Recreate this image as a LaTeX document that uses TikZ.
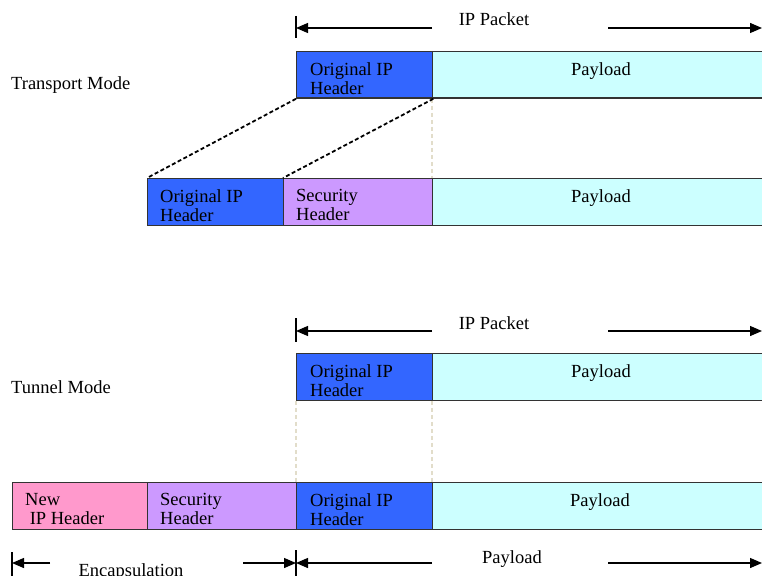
\documentclass[tikz,border=0pt]{standalone}
\usepackage{fontspec}
\setmainfont{Liberation Serif}
\usetikzlibrary{arrows.meta}
\definecolor{hdrblue}{HTML}{3366FF}
\definecolor{paycyan}{HTML}{CCFFFF}
\definecolor{secpurple}{HTML}{CC99FF}
\definecolor{newpink}{HTML}{FF99CC}
\definecolor{boxline}{HTML}{333333}
\definecolor{faintline}{HTML}{E2DDCA}
\begin{document}
\begin{tikzpicture}[x=1pt,y=-1pt,
  pbox/.style={draw=boxline, line width=1.3pt, rectangle, anchor=north west, inner sep=0pt, minimum height=46.5pt},
  txt/.style={anchor=north west, inner sep=0pt, align=left, font=\fontsize{18.5}{19}\selectfont},
  lbl/.style={anchor=base, inner sep=0pt, font=\fontsize{18.5}{19}\selectfont},
  arr/.style={line width=1.3pt, -{Triangle[length=12pt,width=10pt]}},
  tick/.style={line width=1.3pt},
  dashlink/.style={line width=1.8pt, dash pattern=on 4pt off 2.5pt},
  faint/.style={faintline, line width=1.2pt, dash pattern=on 4pt off 3pt}]
\useasboundingbox[fill=white] (0,0) rectangle (762,575);

% ---------- Transport mode ----------
\node[lbl, anchor=base west] (tmode) at (11,90) {Transport Mode};

\coordinate (t1a) at (296,16); \coordinate (t1b) at (296,38);
\draw[tick] (t1a) -- (t1b);
\coordinate (a1l) at (296,28); \coordinate (a1m) at (432,28);
\coordinate (a1n) at (608,28); \coordinate (a1r) at (762,28);
\draw[arr] (a1m) -- (a1l);
\draw[arr] (a1n) -- (a1r);
\node[lbl] (ip1) at (494,26) {IP Packet};

\node[pbox, fill=hdrblue, minimum width=136pt] (oh1) at (296,51) {};
\node[pbox, fill=paycyan, minimum width=340pt] (pl1) at (432,51) {};
\node[txt] (oh1t) at ([shift={(14,11)}]oh1.north west) {Original IP\\Header};
\node[txt, anchor=north] (pl1t) at ([shift={(169,11)}]pl1.north west) {Payload};

\node[pbox, fill=hdrblue, minimum width=136pt] (oh2) at (147,178) {};
\node[pbox, fill=secpurple, minimum width=149pt] (sh2) at (283,178) {};
\node[pbox, fill=paycyan, minimum width=340pt] (pl2) at (432,178) {};
\node[txt] (oh2t) at ([shift={(13,11)}]oh2.north west) {Original IP\\Header};
\node[txt] (sh2t) at ([shift={(13,11)}]sh2.north west) {Security\\Header};
\node[txt, anchor=north] (pl2t) at ([shift={(169,11)}]pl2.north west) {Payload};

\draw[faint] (pl1.south west) -- (pl2.north west);
\draw[dashlink] (oh1.south west) -- (oh2.north west);
\draw[dashlink] (oh1.south east) -- (sh2.north west);

% ---------- Tunnel mode ----------
\node[lbl, anchor=base west] (umode) at (11,393) {Tunnel Mode};

\coordinate (t3a) at (296,318); \coordinate (t3b) at (296,342);
\draw[tick] (t3a) -- (t3b);
\coordinate (a3l) at (296,331); \coordinate (a3m) at (432,331);
\coordinate (a3n) at (608,331); \coordinate (a3r) at (762,331);
\draw[arr] (a3m) -- (a3l);
\draw[arr] (a3n) -- (a3r);
\node[lbl] (ip3) at (494,329) {IP Packet};

\node[pbox, fill=hdrblue, minimum width=136pt] (oh3) at (296,353) {};
\node[pbox, fill=paycyan, minimum width=340pt] (pl3) at (432,353) {};
\node[txt] (oh3t) at ([shift={(14,11)}]oh3.north west) {Original IP\\Header};
\node[txt, anchor=north] (pl3t) at ([shift={(169,11)}]pl3.north west) {Payload};

\node[pbox, fill=newpink, minimum width=135pt] (nh4) at (12,482) {};
\node[pbox, fill=secpurple, minimum width=149pt] (sh4) at (147,482) {};
\node[pbox, fill=hdrblue, minimum width=136pt] (oh4) at (296,482) {};
\node[pbox, fill=paycyan, minimum width=340pt] (pl4) at (432,482) {};
\node[txt] (nh4t) at ([shift={(13,11)}]nh4.north west) {New\\\ IP Header};
\node[txt] (sh4t) at ([shift={(13,11)}]sh4.north west) {Security\\Header};
\node[txt] (oh4t) at ([shift={(14,11)}]oh4.north west) {Original IP\\Header};
\node[txt, anchor=north] (pl4t) at ([shift={(168,11)}]pl4.north west) {Payload};

\draw[faint] (oh3.south west) -- (oh4.north west);
\draw[faint] (pl3.south west) -- (pl4.north west);

% ---------- bottom dimension arrows ----------
\coordinate (b0a) at (12,552); \coordinate (b0b) at (12,580);
\draw[tick] (b0a) -- (b0b);
\coordinate (b1a) at (296,550); \coordinate (b1b) at (296,580);
\draw[tick] (b1a) -- (b1b);
\coordinate (e0) at (12,563); \coordinate (e1) at (50,563);
\coordinate (e2) at (243,563); \coordinate (e3) at (296,563);
\draw[arr] (e1) -- (e0);
\draw[arr] (e2) -- (e3);
\node[lbl] (enc) at (131,576) {Encapsulation};
\coordinate (p1) at (432,563); \coordinate (p2) at (608,563); \coordinate (p3) at (762,563);
\draw[arr] (p1) -- (e3);
\draw[arr] (p2) -- (p3);
\node[lbl] (pay) at (512,563) {Payload};
\end{tikzpicture}
\end{document}
